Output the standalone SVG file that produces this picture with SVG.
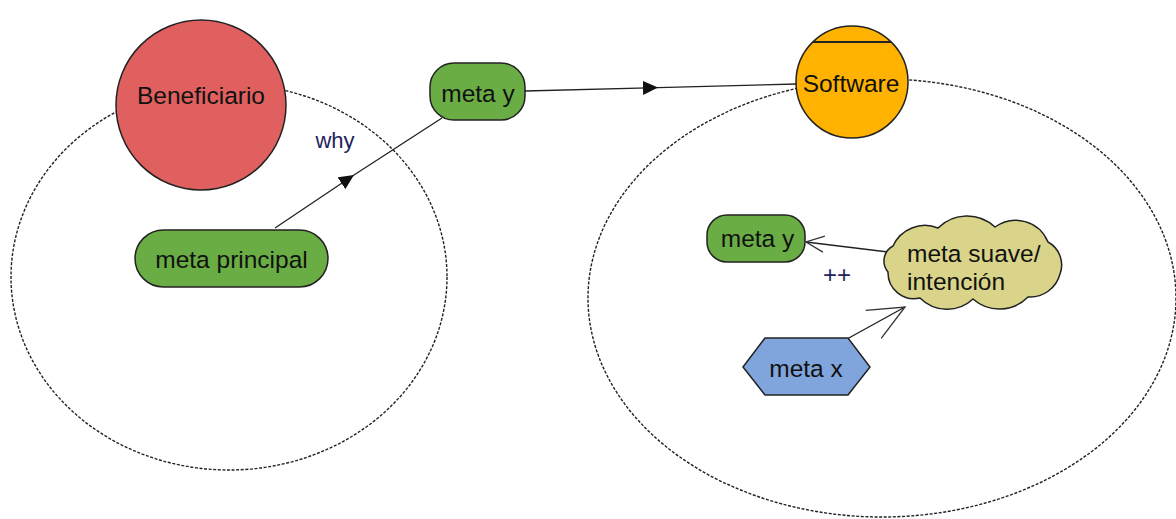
<svg xmlns="http://www.w3.org/2000/svg" width="1176" height="519" viewBox="0 0 1176 519">
  <style>
    .boundary { fill: none; stroke: #222; stroke-width: 1.4; stroke-dasharray: 3 1.6; }
    .link { fill: none; stroke: #222; stroke-width: 1.3; }
    .node { stroke: #222; stroke-width: 1.5; }
    .goal { fill: #6aad45; }
    .lbl { font-family: "Liberation Sans", Arial, sans-serif; font-size: 24.5px; fill: #111; }
    .mid { text-anchor: middle; }
    .note { font-family: "Liberation Sans", Arial, sans-serif; font-size: 22px; fill: #22225e; }
  </style>
  <defs>
    <marker id="solid" markerUnits="userSpaceOnUse" markerWidth="16" markerHeight="14" refX="15" refY="7" orient="auto">
      <path d="M0,0 L15,7 L0,14 z" fill="#111"/>
    </marker>
    <marker id="open-small" markerUnits="userSpaceOnUse" markerWidth="22" markerHeight="18" refX="20" refY="9" orient="auto">
      <path d="M2,1 L20,9 L2,17" fill="none" stroke="#333" stroke-width="1.3"/>
    </marker>
    <marker id="open-large" markerUnits="userSpaceOnUse" markerWidth="40" markerHeight="36" refX="38" refY="18" orient="auto">
      <path d="M2,2 L38,18 L2,34" fill="none" stroke="#333" stroke-width="1.3"/>
    </marker>
  </defs>

  <!-- actor boundaries -->
  <g id="boundaries">
    <ellipse class="boundary" cx="229" cy="277" rx="218" ry="193"/>
    <ellipse class="boundary" cx="882" cy="298" rx="294" ry="219"/>
  </g>

  <!-- links -->
  <g id="connectors">
    <path class="link" d="M275,228 L354,175 L442,118" marker-mid="url(#solid)"/>
    <path class="link" d="M525,91 L658,87.6 L797,84" marker-mid="url(#solid)"/>
    <path class="link" d="M888,252 L806,242" marker-end="url(#open-small)"/>
    <path class="link" d="M847,339 L905,307" marker-end="url(#open-large)"/>
    <text class="note mid" x="335" y="148">why</text>
    <text class="note mid" x="837" y="283" style="font-size:24px">++</text>
  </g>

  <g id="beneficiario">
    <circle class="node" cx="201" cy="105" r="85" fill="#e06060"/>
    <text class="lbl mid" x="201" y="104">Beneficiario</text>
  </g>

  <g id="meta-principal">
    <rect class="node goal" x="135" y="230" width="193" height="57" rx="28.5"/>
    <text class="lbl mid" x="231.5" y="268">meta principal</text>
  </g>

  <g id="meta-y-top">
    <rect class="node goal" x="430" y="63" width="95" height="57" rx="24"/>
    <text class="lbl mid" x="478" y="102">meta y</text>
  </g>

  <g id="software">
    <circle class="node" cx="852" cy="82" r="56" fill="#ffb300"/>
    <line x1="813" y1="42" x2="891" y2="42" stroke="#222" stroke-width="1.8"/>
    <text class="lbl mid" x="851" y="92">Software</text>
  </g>

  <g id="meta-y-inner">
    <rect class="node goal" x="707" y="215" width="98" height="47" rx="20"/>
    <text class="lbl mid" x="757.5" y="247">meta y</text>
  </g>

  <g id="meta-suave">
    <path class="node" fill="#d9d48a" d="M893,246 A35,35 0 0 1 938,228 A41,41 0 0 1 995,227 A35,35 0 0 1 1048,242 A26,26 0 0 1 1060,274 A31,31 0 0 1 1028,297 A40,40 0 0 1 973,299 A38,38 0 0 1 920,298 A26,26 0 0 1 888,272 A17,17 0 0 1 893,246 z"/>
    <text class="lbl" x="907" y="262">meta suave/</text>
    <text class="lbl" x="907" y="290">intención</text>
  </g>

  <g id="meta-x">
    <polygon class="node" fill="#7fa5dc" points="743,367 765,338 848,338 870,367 848,395 765,395"/>
    <text class="lbl mid" x="806" y="377">meta x</text>
  </g>
</svg>
